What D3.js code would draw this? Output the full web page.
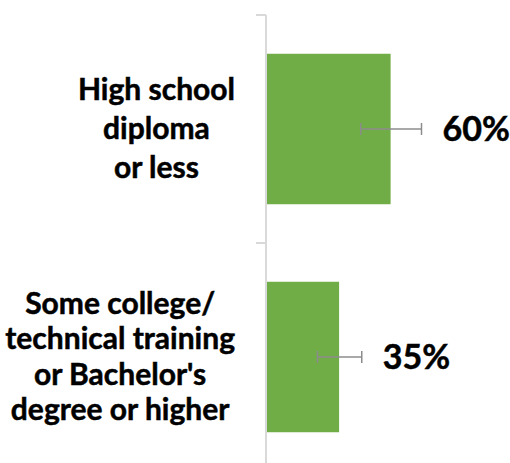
<!DOCTYPE html>
<html>
<head>
<meta charset="utf-8">
<script src="https://cdn.jsdelivr.net/npm/d3@7"></script>
<style>
  body { margin: 0; background: #fff; }
  svg text { font-family: Lato, "Open Sans", sans-serif; font-weight: bold; fill: #000; stroke: #000; stroke-width: 0.5px; }
</style>
</head>
<body>
<svg id="chart"></svg>
<script>
//Data
const categories = ["hs", "college"];
const categoryLines = [
  ["High school", "diploma", "or less"],
  ["Some college/", "technical training", "or Bachelor's", "degree or higher"]
];
const values = [0.60, 0.35];
const errLow = [0.455, 0.245];
const errHigh = [0.75, 0.46];
const valueLabels = ["60%", "35%"];

//Layout
const w = 510;
const h = 463;
const axisX = 266;
const lineGap = [39, 35.5];

const chart = d3.select("#chart").attr("width", w).attr("height", h);

//Scales
const yScale = d3.scaleBand()
                 .domain(categories)
                 .range([15, 471])
                 .paddingInner(0.34)
                 .paddingOuter(0.17);

const xScale = d3.scaleLinear()
                 .domain([0, 1])
                 .range([axisX + 1, axisX + 207]);

const step = yScale.step();
const bandStart = (c) => yScale(c) - step * 0.17;
const mid = (c) => yScale(c) + yScale.bandwidth() / 2;

//Bars
chart.selectAll(".bar")
     .data(categories)
     .enter()
     .append("rect")
     .attr("class", "bar")
     .attr("x", xScale(0))
     .attr("y", (c) => yScale(c))
     .attr("width", (c, i) => xScale(values[i]) - xScale(0))
     .attr("height", yScale.bandwidth())
     .attr("fill", "#70ad47");

//Axis line and ticks at category boundaries
chart.append("line")
     .attr("x1", axisX).attr("x2", axisX)
     .attr("y1", bandStart(categories[0])).attr("y2", h)
     .attr("stroke", "#d9d9d9").attr("stroke-width", 2);

chart.selectAll(".tick")
     .data(categories)
     .enter()
     .append("line")
     .attr("class", "tick")
     .attr("x1", axisX - 10).attr("x2", axisX)
     .attr("y1", (c) => bandStart(c)).attr("y2", (c) => bandStart(c))
     .attr("stroke", "#d9d9d9").attr("stroke-width", 2);

//Error bars
const err = chart.selectAll(".err")
                 .data(categories)
                 .enter()
                 .append("g")
                 .attr("class", "err")
                 .attr("stroke", "#8c8c8c")
                 .attr("stroke-width", 1.5);

err.append("line")
   .attr("x1", (c, i) => xScale(errLow[i])).attr("x2", (c, i) => xScale(errHigh[i]))
   .attr("y1", mid).attr("y2", mid);
err.append("line")
   .attr("x1", (c, i) => xScale(errLow[i])).attr("x2", (c, i) => xScale(errLow[i]))
   .attr("y1", (c) => mid(c) - 6).attr("y2", (c) => mid(c) + 6);
err.append("line")
   .attr("x1", (c, i) => xScale(errHigh[i])).attr("x2", (c, i) => xScale(errHigh[i]))
   .attr("y1", (c) => mid(c) - 6).attr("y2", (c) => mid(c) + 6);

//Value labels
chart.selectAll(".value")
     .data(categories)
     .enter()
     .append("text")
     .attr("class", "value")
     .attr("x", (c, i) => xScale(errHigh[i]) + 21)
     .attr("y", (c) => mid(c) + 12)
     .style("font-size", "34px")
     .text((c, i) => valueLabels[i]);

//Category labels: lines centered over widest line, block right edge fixed
categories.forEach((c, i) => {
  const lines = categoryLines[i];
  const g = chart.append("g").attr("class", "cat");
  const texts = lines.map((l, j) =>
    g.append("text")
     .attr("y", mid(c) + 10 + (j - (lines.length - 1) / 2) * lineGap[i])
     .attr("text-anchor", "middle")
     .style("font-size", "30px")
     .text(l));
  const maxW = d3.max(texts, (t) => t.node().getComputedTextLength());
  texts.forEach((t) => t.attr("x", axisX - 31 - maxW / 2));
});
</script>
</body>
</html>
